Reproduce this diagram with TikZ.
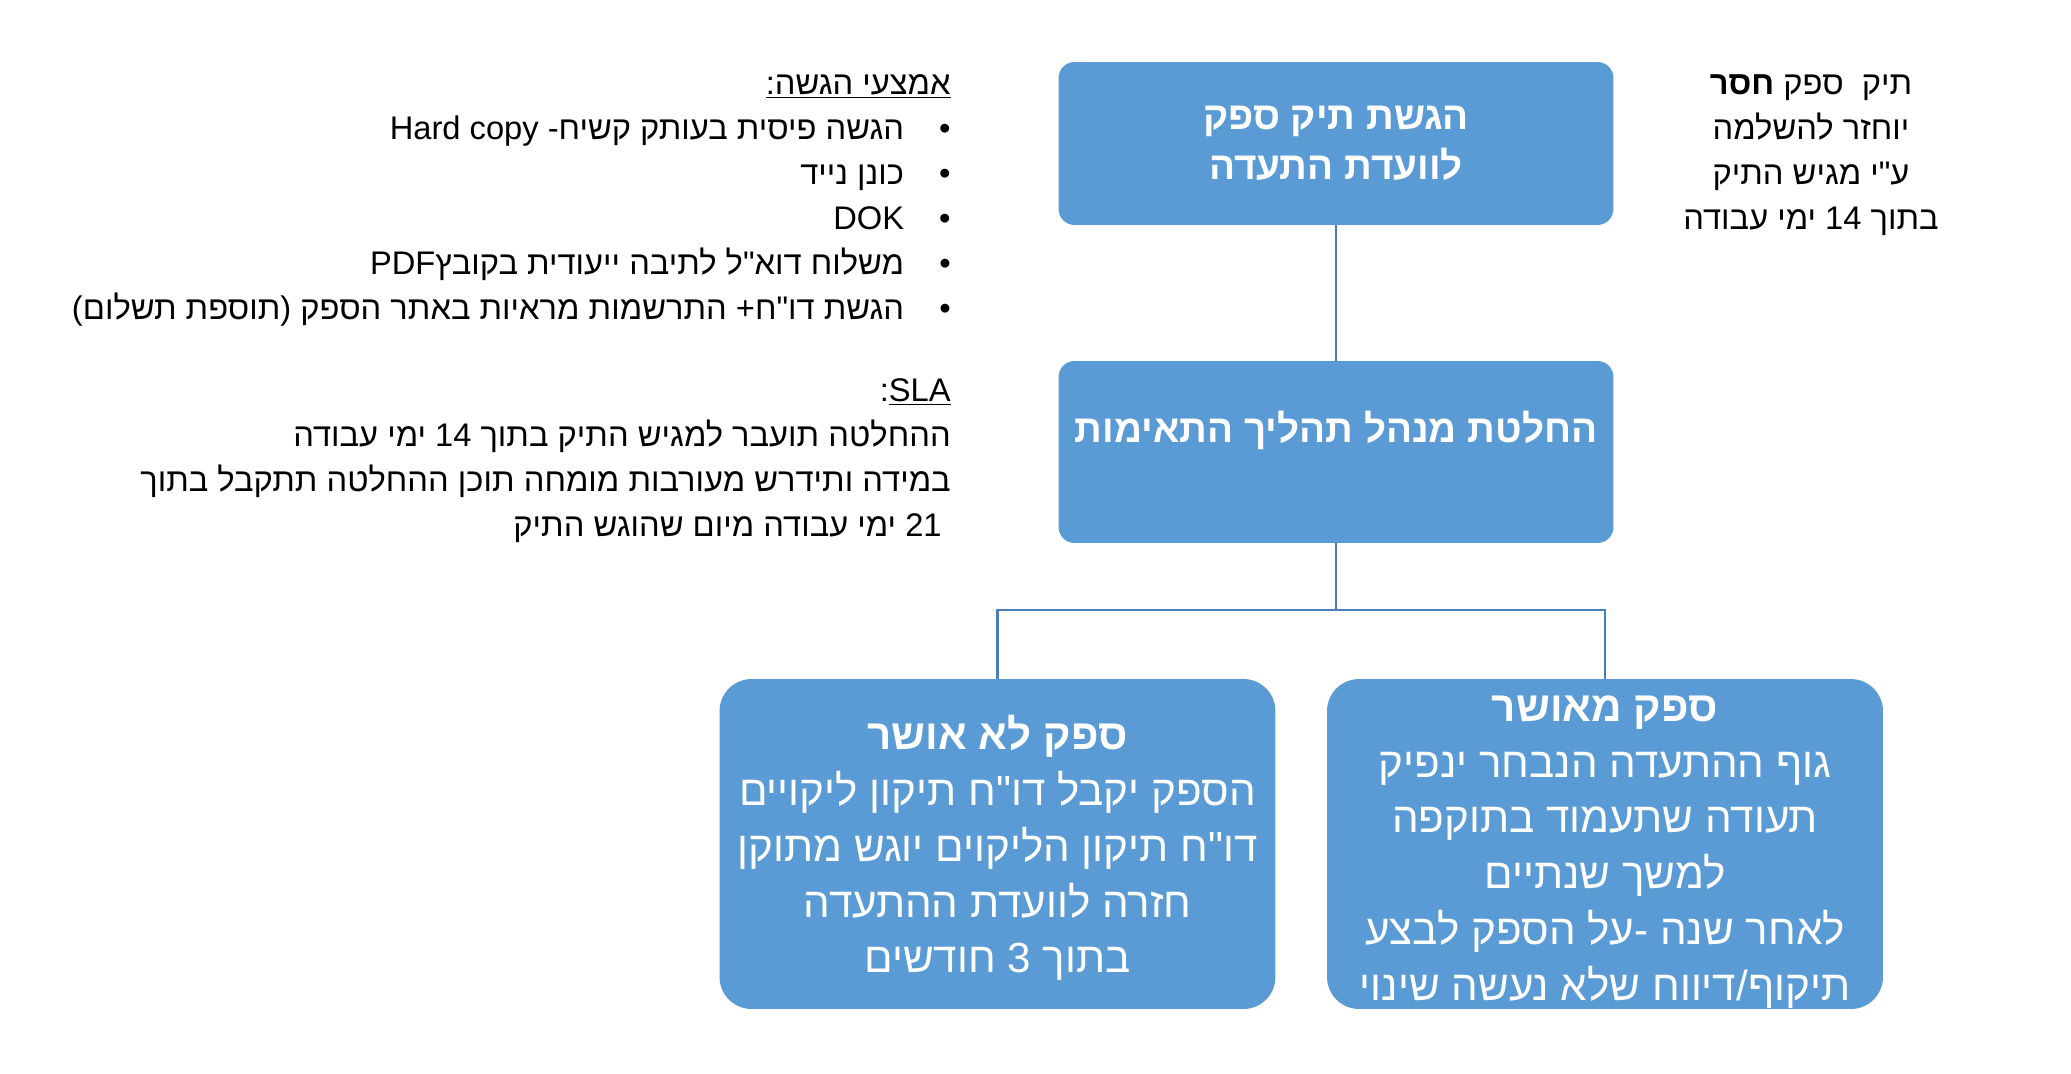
\documentclass[tikz,border=0pt]{standalone}
\usepackage{fontspec}
\setmainfont{Liberation Sans}
\newfontfamily\hebfont[Script=Hebrew]{Liberation Sans}
\TeXXeTstate=1
\newcommand{\heb}[1]{\hbox{\beginR #1\endR}}
\newcommand{\lat}[1]{\beginL{\rmfamily #1}\endL}
\newcommand{\bul}[1]{\heb{•\kern 20pt #1}}
\definecolor{boxblue}{RGB}{91,155,213}
\definecolor{linkblue}{RGB}{74,126,187}
\tikzset{
    stepbox/.style={rectangle, rounded corners=0.32cm, fill=boxblue, text=white, align=center,
        minimum width=11.1cm, inner sep=0pt, font=\hebfont\bfseries\fontsize{22}{28.5}\selectfont},
    endbox/.style={rectangle, rounded corners=0.64cm, fill=boxblue,
        minimum width=11.12cm, minimum height=6.6cm, inner sep=0pt},
    endtext/.style={text=white, align=center, inner sep=0pt, font=\hebfont\fontsize{24}{31.8}\selectfont},
    note/.style={inner sep=0pt, font=\hebfont\fontsize{18.6}{25.6}\selectfont},
    link/.style={draw=linkblue, line width=1.4pt}
}
\begin{document}
\begin{tikzpicture}[x=0.02cm, y=-0.02cm]
    \useasboundingbox (0,0) rectangle (2071,1073);
    % Boxes
    \node[stepbox, minimum height=3.26cm] (submit) at (1336,143.5) {\heb{הגשת תיק ספק}\\\heb{לוועדת התעדה}};
    \node[stepbox, minimum height=3.64cm] (decide) at (1336,452) {\heb{החלטת מנהל תהליך התאימות}\\\mbox{}};
    \node[endbox] (reject) at (997.5,844) {};
    \node[endbox] (accept) at (1605,844) {};
    % Box texts
    \node[endtext] (rejecttext) at ([yshift=-0.08cm]reject.center) {\heb{\textbf{ספק לא אושר}}\\
        \heb{הספק יקבל דו"ח תיקון ליקויים}\\
        \heb{דו"ח תיקון הליקוים יוגש מתוקן}\\
        \heb{חזרה לוועדת ההתעדה}\\
        \heb{בתוך 3 חודשים}};
    \node[endtext] (accepttext) at ([yshift=-0.16cm]accept.center) {\heb{\textbf{ספק מאושר}}\\
        \heb{גוף ההתעדה הנבחר ינפיק}\\
        \heb{תעודה שתעמוד בתוקפה}\\
        \heb{למשך שנתיים}\\
        \heb{לאחר שנה -על הספק לבצע}\\
        \heb{תיקוף/דיווח שלא נעשה שינוי}};
    % Side notes
    \node[note, anchor=east, align=right] (means) at (951,200.5) {\underline{\heb{אמצעי הגשה:}}\\
        \bul{הגשה פיסית בעותק קשיח- \lat{Hard copy}}\\
        \bul{כונן נייד}\\
        \bul{\lat{DOK}}\\
        \bul{משלוח דוא"ל לתיבה ייעודית בקובץ\lat{PDF}}\\
        \bul{הגשת דו"ח+ התרשמות מראיות באתר הספק \lat{)}תוספת תשלום\lat{(}}};
    \node[note, anchor=east, align=right] (sla) at (951,460.5) {\heb{\lat{\underline{SLA}}:}\\
        \heb{ההחלטה תועבר למגיש התיק בתוך 14 ימי עבודה}\\
        \heb{במידה ותידרש מעורבות מומחה תוכן ההחלטה תתקבל בתוך}\\
        \heb{\ 21 ימי עבודה מיום שהוגש התיק}};
    \node[note, align=center] (missing) at (1811,155.5) {\heb{תיק\ \ ספק \textbf{חסר}}\\
        \heb{יוחזר להשלמה}\\
        \heb{ע"י מגיש התיק}\\
        \heb{בתוך 14 ימי עבודה}};
    % Edges
    \coordinate (fork) at (1336,610);
    \draw[link] (submit) -- (decide);
    \draw[link] (decide) -- (fork) -| (reject);
    \draw[link] (fork) -| (accept);
\end{tikzpicture}
\end{document}
